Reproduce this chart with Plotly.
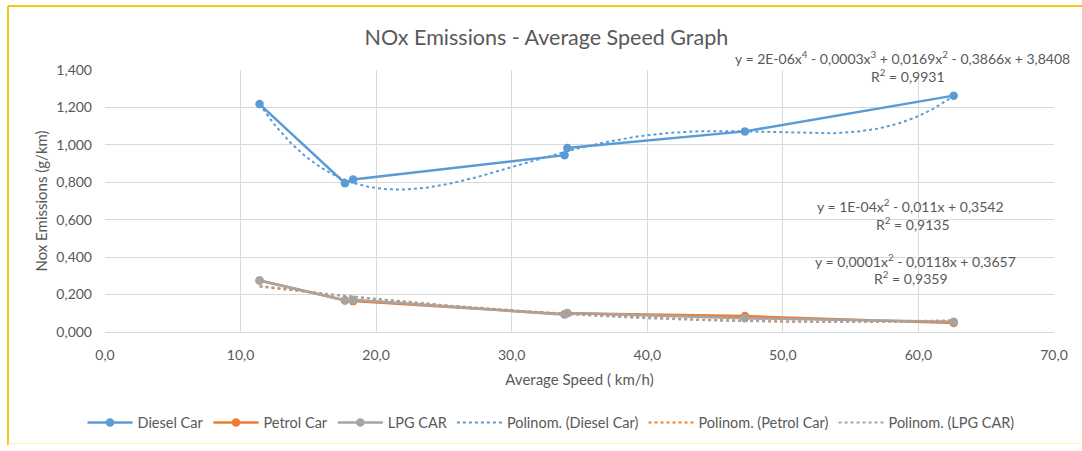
import numpy as np
import plotly.graph_objects as go

# ---- data ----
speed = [11.4, 17.7, 18.3, 33.9, 34.1, 47.2, 62.6]
diesel = [1.218, 0.795, 0.815, 0.945, 0.983, 1.072, 1.263]
petrol = [0.275, 0.170, 0.165, 0.095, 0.100, 0.085, 0.048]
lpg = [0.275, 0.168, 0.172, 0.093, 0.102, 0.073, 0.055]
series_names = ["Diesel Car", "Petrol Car", "LPG CAR"]
trend_degree = [4, 2, 2]
x_ticks = [0, 10, 20, 30, 40, 50, 60, 70]
y_ticks = [0, 0.2, 0.4, 0.6, 0.8, 1.0, 1.2, 1.4]
eq_texts = [
    "y = 2E-06x<sup>4</sup> - 0,0003x<sup>3</sup> + 0,0169x<sup>2</sup> - 0,3866x + 3,8408",
    "R<sup>2</sup> = 0,9931",
    "y = 1E-04x<sup>2</sup> - 0,011x + 0,3542",
    "R<sup>2</sup> = 0,9135",
    "y = 0,0001x<sup>2</sup> - 0,0118x + 0,3657",
    "R<sup>2</sup> = 0,9359",
]

colors = ["#5B9BD5", "#ED7D31", "#A5A5A5"]
FONT = "Lato"
TXT = "#595959"

W, H = 1082, 451
L, R, T, B = 105, 1054, 70, 336

fig = go.Figure()
values = [diesel, petrol, lpg]
for name, v, c in zip(series_names, values, colors):
    fig.add_trace(go.Scatter(x=speed, y=v, mode="lines+markers", name=name,
                             line=dict(color=c, width=2.5),
                             marker=dict(color=c, size=8.5, symbol="circle")))

xs = np.linspace(min(speed), max(speed), 300)
for name, v, c, d in zip(series_names, values, colors, trend_degree):
    coef = np.polyfit(speed, v, d)
    fig.add_trace(go.Scatter(x=xs, y=np.polyval(coef, xs), mode="lines",
                             name="Polinom. (" + name + ")",
                             line=dict(color=c, width=2, dash="dot")))

def px2paper(px, py):
    return (px - L) / (R - L), (B - py) / (B - T)

eq_pos = [(902, 57), (908, 76), (910, 208), (913, 226), (915, 263), (911, 281)]
for t, (px, py) in zip(eq_texts, eq_pos):
    ax, ay = px2paper(px, py)
    fig.add_annotation(text=t, x=ax, y=ay, xref="paper", yref="paper",
                       showarrow=False, xanchor="center", yanchor="middle",
                       font=dict(family=FONT, size=14, color=TXT))

# frame (chart selection border)
def hline(x0, x1, y, color, w):
    fig.add_shape(type="line", xref="paper", yref="paper",
                  x0=(x0 - L) / (R - L), x1=(x1 - L) / (R - L),
                  y0=(B - y) / (B - T), y1=(B - y) / (B - T),
                  line=dict(color=color, width=w))

fig.add_shape(type="line", xref="paper", yref="paper",
              x0=(8 - L) / (R - L), x1=(8 - L) / (R - L),
              y0=(B - 5) / (B - T), y1=(B - 451) / (B - T),
              line=dict(color="#F2C811", width=2))
hline(8, 1082, 5, "#F2C811", 2)
hline(8, 1082, 449, "#FFF3B0", 1)

lx, ly = px2paper(551, 428)

fig.update_layout(
    width=W, height=H,
    margin=dict(l=L, r=W - R, t=T, b=H - B),
    paper_bgcolor="white", plot_bgcolor="white",
    separators=",.",
    title=dict(text="NOx Emissions - Average Speed Graph", x=0.505, xanchor="center",
               y=1 - 37 / H, yanchor="middle",
               font=dict(family=FONT, size=21.5, color=TXT)),
    font=dict(family=FONT, size=13, color=TXT),
    xaxis=dict(range=[0, 70], tickvals=x_ticks, tickformat=".1f",
               showgrid=True, gridcolor="#D9D9D9", gridwidth=1,
               showline=True, linecolor="#D9D9D9", zeroline=False,
               ticks="", ticklabelstandoff=10,
               tickfont=dict(family=FONT, size=14, color=TXT),
               title=dict(text="Average Speed ( km/h)", standoff=12,
                          font=dict(family=FONT, size=15, color=TXT))),
    yaxis=dict(range=[0, 1.4], tickvals=y_ticks, tickformat=".3f",
               showgrid=True, gridcolor="#D9D9D9", gridwidth=1,
               showline=False, zeroline=False, ticks="", ticklabelstandoff=12,
               tickfont=dict(family=FONT, size=14, color=TXT),
               title=dict(text="Nox Emissions (g/km)", standoff=5,
                          font=dict(family=FONT, size=15, color=TXT))),
    legend=dict(orientation="h", x=lx, xanchor="center", y=ly,
                yanchor="middle", font=dict(family=FONT, size=14.5, color=TXT),
                itemwidth=45, bgcolor="rgba(0,0,0,0)"),
    showlegend=True,
)

fig.write_html("out.html")
